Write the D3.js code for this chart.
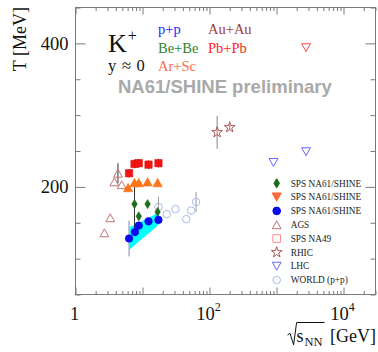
<!DOCTYPE html>
<html>
<head>
<meta charset="utf-8">
<script src="https://cdn.jsdelivr.net/npm/d3@7"></script>
<style>
  body { margin: 0; background: #fff; }
  svg { display: block; }
</style>
</head>
<body>
<svg id="chart" width="378" height="352"></svg>
<script>
// ---------- data: kaon inverse slope parameter T vs collision energy ----------
// NA61/SHINE p+p (filled blue circles) and its systematic band
const ppEnergy   = [6.3, 7.7, 8.8, 12.3, 17.3];
const ppT        = [128, 137, 146, 152, 154];
const ppErr      = [25, 0, 0, 0, 0];
const ppBandLow  = [112, 119, 124, 135, 147];
const ppBandHigh = [144, 147, 150, 157, 164];

// NA61/SHINE Be+Be (filled green diamonds)
const beEnergy = [7.6, 8.8, 11.9, 16.8];
const beT      = [176, 159, 176, 165];
const beErr    = [35, 0, 0, 0];

// NA61/SHINE Ar+Sc (filled orange triangles)
const arEnergy = [6.1, 7.6, 8.8, 11.9, 16.8];
const arT      = [199, 206, 206, 207, 206];

// NA49 Pb+Pb (filled red squares)
const pbEnergy = [6.3, 7.6, 8.8, 12.3, 17.3];
const pbT      = [219, 232, 233, 231, 233];
const pbErr    = [6, 6, 6, 6, 6];

// AGS Au+Au (open triangles)
const agsEnergy = [2.7, 3.3, 3.8, 4.3, 4.9];
const agsT      = [136, 157, 207, 219, 203];
const agsErr    = [0, 0, 0, 14, 0];

// RHIC Au+Au (open stars)
const rhicEnergy = [130, 200];
const rhicT      = [276, 283];
const rhicErr    = [23, 4];

// LHC p+p (open blue down-triangles) and Pb+Pb (open red down-triangle)
const lhcPPEnergy = [900, 2760];
const lhcPPT      = [234, 249];
const lhcPbEnergy = [2760];
const lhcPbT      = [394];

// World p+p data (open light-blue circles)
const worldEnergy = [17.3, 23, 31, 45, 53, 63];
const worldT      = [172, 162, 169, 155, 167, 179];
const worldErr    = [14, 0, 0, 0, 0, 14];

// axis labelling
const xLabelValues = [1, 100, 10000];
const xLabelBase   = ["1", "10", "10"];
const xLabelExp    = ["", "2", "4"];
const yLabelValues = [200, 400];
const yMinorStep   = 50;

// legend entries
const legendLabels = ["SPS NA61/SHINE", "SPS NA61/SHINE", "SPS NA61/SHINE",
                      "AGS", "SPS NA49", "RHIC", "LHC", "WORLD (p+p)"];

// ---------- layout ----------
const svg = d3.select("#chart");
const L = 75.5, R = 375.5, T0 = 7.5, B = 294.5;
const x = d3.scaleLog().domain([1, 30000]).range([L, R]);
const y = d3.scaleLinear().domain([50, 450]).range([B, T0]);

const serif = "'Liberation Serif', 'Times New Roman', serif";
const sans  = "'Liberation Sans', Arial, sans-serif";
const frameColor = "#7a7a7a";

// ---------- axes (ticks inside the frame, mirrored) ----------
const xMinor = [], xMajor = [];
for (let d = 0; d <= 4; d++) {
  for (let m = 1; m <= 9; m++) {
    const v = m * Math.pow(10, d);
    if (v > 30000) continue;
    (m === 1 ? xMajor : xMinor).push(v);
  }
}
const yMinor = d3.range(50, 451, yMinorStep).filter(v => !yLabelValues.includes(v));

function styleAxis(g) {
  g.select(".domain").remove();
  g.selectAll("line").attr("stroke", frameColor);
  g.selectAll("text").remove();
}
const axes = svg.append("g");
axes.append("g").attr("transform", `translate(0,${B})`)
  .call(d3.axisBottom(x).tickValues(xMinor).tickSize(-3.5)).call(styleAxis);
axes.append("g").attr("transform", `translate(0,${B})`)
  .call(d3.axisBottom(x).tickValues(xMajor).tickSize(-7)).call(styleAxis);
axes.append("g").attr("transform", `translate(0,${T0})`)
  .call(d3.axisTop(x).tickValues(xMinor).tickSize(-3.5)).call(styleAxis);
axes.append("g").attr("transform", `translate(0,${T0})`)
  .call(d3.axisTop(x).tickValues(xMajor).tickSize(-7)).call(styleAxis);
axes.append("g").attr("transform", `translate(${L},0)`)
  .call(d3.axisLeft(y).tickValues(yMinor).tickSize(-5)).call(styleAxis);
axes.append("g").attr("transform", `translate(${L},0)`)
  .call(d3.axisLeft(y).tickValues(yLabelValues).tickSize(-10)).call(styleAxis);
axes.append("g").attr("transform", `translate(${R},0)`)
  .call(d3.axisRight(y).tickValues(yMinor).tickSize(-5)).call(styleAxis);
axes.append("g").attr("transform", `translate(${R},0)`)
  .call(d3.axisRight(y).tickValues(yLabelValues).tickSize(-10)).call(styleAxis);

svg.append("rect")
  .attr("x", L).attr("y", T0).attr("width", R - L).attr("height", B - T0)
  .attr("fill", "none").attr("stroke", frameColor).attr("stroke-width", 1);

// tick labels
const xl = svg.append("g").attr("font-family", serif).attr("font-size", 18.5).attr("fill", "#111");
xLabelValues.forEach((v, i) => {
  const t = xl.append("text").attr("x", x(v) - 1).attr("y", 320).attr("text-anchor", "middle");
  t.append("tspan").text(xLabelBase[i]);
  if (xLabelExp[i]) t.append("tspan").attr("font-size", 12).attr("dy", -8.6).text(xLabelExp[i]);
});
yLabelValues.forEach(v => {
  xl.append("text").attr("x", 68.5).attr("y", y(v) + 6.5)
    .attr("text-anchor", "end").text(v);
});

// axis titles
svg.append("text")
  .attr("transform", "translate(26,7) rotate(-90)")
  .attr("text-anchor", "end")
  .attr("font-family", serif).attr("font-size", 18).attr("fill", "#111")
  .text("T [MeV]");

const xt = svg.append("g").attr("font-family", serif).attr("fill", "#111");
xt.append("path")
  .attr("d", "M287.5,335 L290,333.3 L293.6,344.8 L296.6,322.5 L324.5,322.5")
  .attr("fill", "none").attr("stroke", "#111").attr("stroke-width", 1);
xt.append("text").attr("x", 296.5).attr("y", 341.5).attr("font-size", 18).text("s");
xt.append("text").attr("x", 304.5).attr("y", 345.5).attr("font-size", 12.5).text("NN");
xt.append("text").attr("x", 330).attr("y", 341.5).attr("font-size", 18).text("[GeV]");

// ---------- marker shapes ----------
function triUp(s) {      // s = half width
  const h = s * 0.9;
  return `M0,${-h}L${s},${h}L${-s},${h}Z`;
}
function triDown(s) {
  const h = s * 0.9;
  return `M0,${h}L${s},${-h}L${-s},${-h}Z`;
}
function diamond(w, h) {
  return `M0,${-h}L${w},0L0,${h}L${-w},0Z`;
}
function square(s) {
  return `M${-s},${-s}H${s}V${s}H${-s}Z`;
}
const starPath = d3.symbol(d3.symbolStar, 36)();

const plot = svg.append("g");

function errorBars(energy, vals, errs, color) {
  plot.append("g").selectAll("line")
    .data(energy.map((e, i) => ({ e, v: vals[i], err: errs[i] })).filter(d => d.err > 0))
    .join("line")
    .attr("x1", d => x(d.e)).attr("x2", d => x(d.e))
    .attr("y1", d => y(d.v - d.err)).attr("y2", d => y(d.v + d.err))
    .attr("stroke", color).attr("stroke-width", 1);
}

function markers(energy, vals, path, fill, stroke, sw) {
  plot.append("g").selectAll("path")
    .data(energy.map((e, i) => ({ e, v: vals[i] })))
    .join("path")
    .attr("transform", d => `translate(${x(d.e)},${y(d.v)})`)
    .attr("d", path)
    .attr("fill", fill).attr("stroke", stroke).attr("stroke-width", sw || 1);
}

// p+p systematic band
errorBars(ppEnergy, ppT, ppErr, "#8888aa");
const band = d3.area()
  .x((d, i) => x(ppEnergy[i]))
  .y0((d, i) => y(ppBandLow[i]))
  .y1((d, i) => y(ppBandHigh[i]));
plot.append("path").datum(ppEnergy).attr("d", band).attr("fill", "#00ffff");

// Error bars
errorBars(worldEnergy, worldT, worldErr, "#999999");
errorBars(agsEnergy, agsT, agsErr, "#333333");
errorBars(rhicEnergy, rhicT, rhicErr, "#888888");
errorBars(pbEnergy, pbT, pbErr, "#333333");
errorBars(beEnergy, beErr.map((e, i) => beT[i]), beErr, "#333333");

// Open markers
markers(worldEnergy, worldT, d3.symbol(d3.symbolCircle, 44)(), "none", "#a9bbe6", 1);
markers(agsEnergy, agsT, triUp(4.4), "none", "#c07474", 1);
markers(rhicEnergy, rhicT, starPath, "none", "#b05a5a", 1);
markers(lhcPPEnergy, lhcPPT, triDown(4.4), "none", "#6464ff", 1);
markers(lhcPbEnergy, lhcPbT, triDown(4.4), "none", "#ff4848", 1);

// Filled markers
markers(pbEnergy, pbT, square(3.7), "#f21414", "#e00000", 0.5);
markers(arEnergy, arT, triUp(4.7), "#ff7418", "#ff6a10", 0.5);
markers(beEnergy, beT, diamond(2.8, 4.6), "#1d6b1d", "#1d6b1d", 0.5);
markers(ppEnergy, ppT, d3.symbol(d3.symbolCircle, 46)(), "#0a0af0", "#0000e0", 0.5);

// ---------- annotations ----------
const ann = svg.append("g").attr("font-family", serif);
const kText = ann.append("text").attr("x", 108).attr("y", 51.7).attr("font-size", 26).attr("fill", "#111");
kText.append("tspan").text("K");
kText.append("tspan").attr("font-size", 16).attr("dy", -11).attr("dx", 1).text("+");
ann.append("text").attr("x", 108).attr("y", 70.7).attr("font-size", 16.5)
  .attr("word-spacing", 1.5).attr("fill", "#111").text("y \u2248 0");

ann.append("text").attr("x", 158).attr("y", 33.5).attr("font-size", 14.5).attr("fill", "#2424ff").text("p+p");
ann.append("text").attr("x", 158).attr("y", 52.5).attr("font-size", 14.5).attr("fill", "#2e862e").text("Be+Be");
ann.append("text").attr("x", 158).attr("y", 71).attr("font-size", 14.5).attr("fill", "#ff6a4a").text("Ar+Sc");
ann.append("text").attr("x", 208).attr("y", 33.5).attr("font-size", 14.5).attr("fill", "#a03c3c").text("Au+Au");
ann.append("text").attr("x", 208).attr("y", 52.5).attr("font-size", 14.5).attr("fill", "#ff2424").text("Pb+Pb");

svg.append("text")
  .attr("x", 118).attr("y", 93.3)
  .attr("font-family", sans).attr("font-weight", "bold").attr("font-size", 18.5)
  .attr("fill", "#a9a9a9")
  .text("NA61/SHINE preliminary");

// ---------- legend ----------
const legendMarks = [
  { path: diamond(2.8, 4.6), fill: "#1d6b1d", stroke: "#1d6b1d" },
  { path: triDown(4.6), fill: "#ff6a3a", stroke: "#ff6a3a" },
  { path: d3.symbol(d3.symbolCircle, 46)(), fill: "#0a0af0", stroke: "#0000e0" },
  { path: triUp(4.4), fill: "none", stroke: "#c07474" },
  { path: square(3.8), fill: "none", stroke: "#ff8a8a" },
  { path: starPath, fill: "none", stroke: "#b05a5a" },
  { path: triDown(4.4), fill: "none", stroke: "#6464ff" },
  { path: d3.symbol(d3.symbolCircle, 44)(), fill: "none", stroke: "#a9bbe6" }
];
const legendY = d3.scalePoint().domain(d3.range(legendLabels.length)).range([183.3, 280]);
const lg = svg.append("g");
legendLabels.forEach((label, i) => {
  const m = legendMarks[i];
  lg.append("path")
    .attr("transform", `translate(276.7,${legendY(i)})`)
    .attr("d", m.path).attr("fill", m.fill).attr("stroke", m.stroke).attr("stroke-width", 1);
  lg.append("text")
    .attr("x", 290.7).attr("y", legendY(i) + 3.3)
    .attr("font-family", serif).attr("font-size", 9.3).attr("fill", "#222")
    .text(label);
});
</script>
</body>
</html>
